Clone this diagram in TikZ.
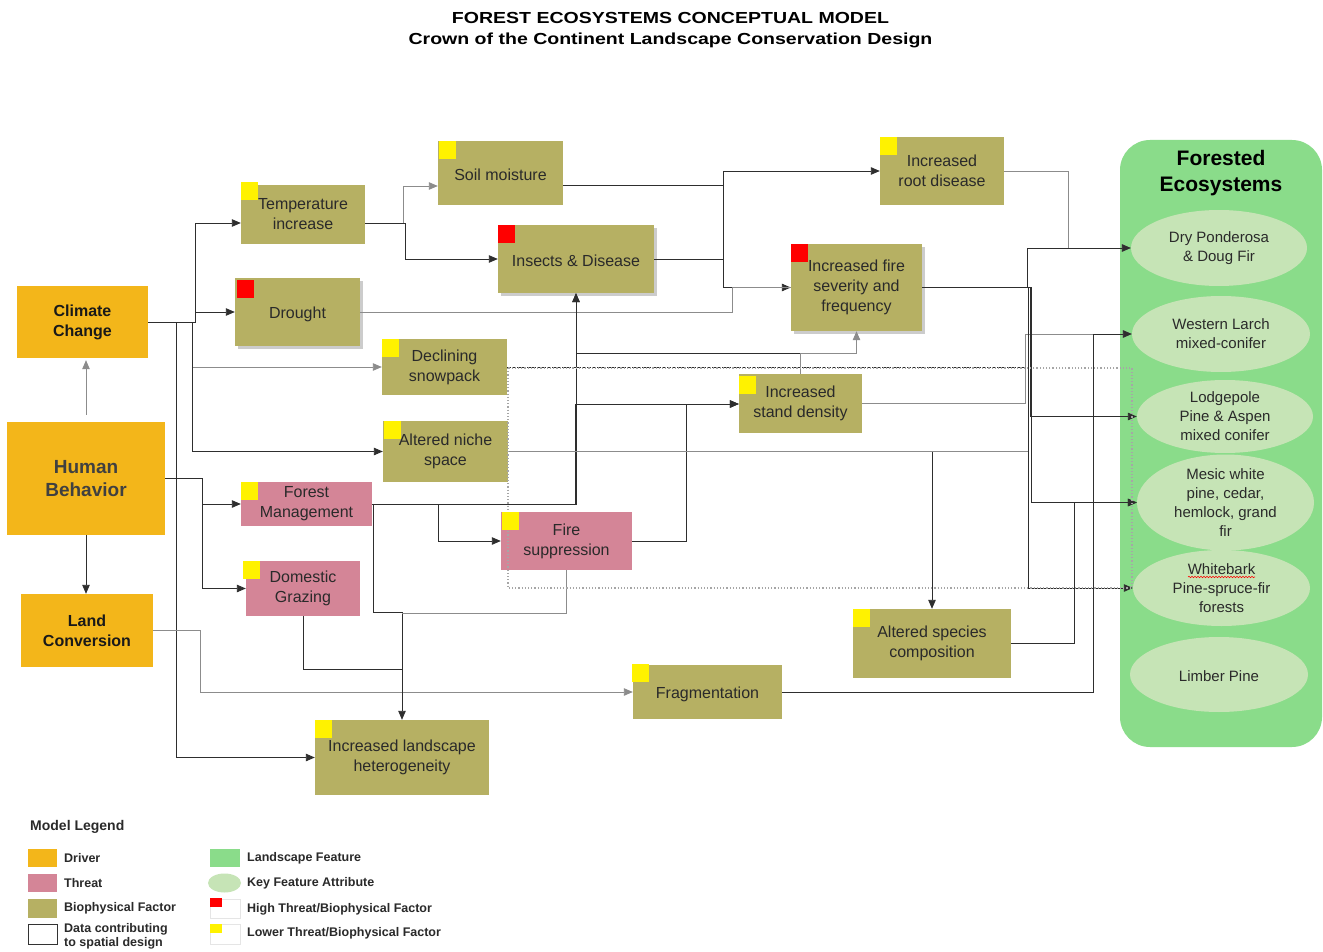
\documentclass[tikz,border=0pt]{standalone}
\usepackage{fontspec}
\setmainfont{Liberation Sans}
\usepackage{graphicx}
\usetikzlibrary{arrows.meta,shapes.geometric,shadows,decorations.pathmorphing}
\definecolor{cDrv}{HTML}{F3B61A}
\definecolor{cThr}{HTML}{D48597}
\definecolor{cBio}{HTML}{B6B063}
\definecolor{cLand}{HTML}{8ADC8A}
\definecolor{cAttr}{HTML}{C6E4B6}
\definecolor{cTxt}{HTML}{2A2A2A}
\definecolor{cLnD}{HTML}{2E2E2E}
\definecolor{cLnL}{HTML}{8C8C8C}
\newcommand{\sqmark}[4]{\fill[#1] ([xshift=#3pt,yshift=#4pt]#2.north west) rectangle ++(17,18);}
\tikzset{
  box/.style={inner sep=0pt, align=center, text=cTxt, font=\fontsize{16}{20}\selectfont,
    execute at begin node={\rule{0pt}{16pt}}},
  sz/.style 2 args={minimum width=#1pt, minimum height=#2pt},
  biobox/.style={box, fill=cBio},
  thrbox/.style={box, fill=cThr},
  drvbox/.style={box, fill=cDrv, font=\bfseries\fontsize{16}{20}\selectfont, text=black!90},
  shd/.style={drop shadow={shadow xshift=3pt, shadow yshift=-3pt, opacity=0.2, fill=black}},
  attrel/.style={ellipse, fill=cAttr, inner sep=0pt, align=center, text=cTxt, font=\fontsize{15}{19}\selectfont,
    execute at begin node={\rule{0pt}{13.5pt}}},
  ln/.style={draw=cLnD, line width=0.9pt},
  lg/.style={draw=cLnL, line width=0.9pt},
  arr/.style={-{Triangle[length=9pt,width=7.5pt]}},
  legtxt/.style={anchor=west, inner sep=0pt, font=\bfseries\fontsize{12.5}{15}\selectfont, text=cTxt, align=left},
}
\begin{document}
\begin{tikzpicture}[x=1pt,y=-1pt]
\useasboundingbox (0,0) rectangle (1323,952);
\fill[white] (0,0) rectangle (1323,952);

% title
\node[inner sep=0pt, font=\bfseries\fontsize{16}{20}\selectfont] (t1) at (670.5,17.5) {\scalebox{1.22}[1]{FOREST ECOSYSTEMS CONCEPTUAL MODEL}};
\node[inner sep=0pt, font=\bfseries\fontsize{16}{20}\selectfont] (t2) at (670.5,40.5) {\scalebox{1.22}[1]{Crown of the Continent Landscape Conservation Design}};

% landscape feature container
\node[fill=cLand, rounded corners=30pt, sz={202}{607}, inner sep=0pt] (fe) at (1221,443.5) {};
\node[inner sep=0pt, align=center, font=\bfseries\fontsize{21}{26}\selectfont] (fet) at (1221,173.5) {Forested\\Ecosystems};
\node[attrel, sz={176}{76}] (dry) at (1219,248) {Dry Ponderosa\\\& Doug Fir};
\node[attrel, sz={178}{76}] (wl) at (1221,334) {Western Larch\\mixed-conifer};
\node[attrel, sz={176}{73}] (lodge) at (1225,416.5) {Lodgepole\\Pine \& Aspen\\mixed conifer};
\node[attrel, sz={177}{73}] (mesic) at (1225.5,502.5) {Mesic white\\pine, cedar,\\hemlock, grand\\fir};
\node[attrel, sz={177}{76}] (wb) at (1221.5,588) {Whitebark\\Pine-spruce-fir\\forests};
\node[attrel, sz={178}{75}] (limber) at (1219,674.5) {Limber Pine};
\draw[red, line width=0.6pt, decorate, decoration={snake, amplitude=0.7pt, segment length=3pt}] (1188,577) -- (1255,577);

% drivers
\node[drvbox, sz={131}{72}] (cc) at (82.5,322) {Climate\\Change};
\node[drvbox, sz={158}{113}, text=black!75, font=\bfseries\fontsize{19}{23}\selectfont] (hb) at (86,478.5) {Human\\Behavior};
\node[drvbox, sz={132}{73}] (lc) at (87,630.5) {Land\\Conversion};

% biophysical factors
\node[biobox, sz={124}{59}] (temp) at (303,214.5) {Temperature\\increase};
\node[biobox, shd, sz={125}{68}] (drought) at (297.5,312) {Drought};
\node[biobox, sz={125}{64}] (soil) at (500.5,173) {Soil moisture};
\node[biobox, shd, sz={156}{68}] (ins) at (576,259) {Insects \& Disease};
\node[biobox, sz={124}{68}] (root) at (942,171) {Increased\\root disease};
\node[biobox, shd, sz={131}{87}] (fire) at (856.5,287.5) {Increased fire\\severity and\\frequency};
\node[biobox, sz={125}{56}] (snow) at (444.5,367) {Declining\\snowpack};
\node[biobox, sz={125}{61}] (niche) at (445.5,451.5) {Altered niche\\space};
\node[biobox, sz={123}{59}] (sd) at (800.5,403.5) {Increased\\stand density};
\node[biobox, sz={158}{69}] (species) at (932,643.5) {Altered species\\composition};
\node[biobox, sz={149}{54}] (frag) at (707.5,692) {Fragmentation};
\node[biobox, sz={174}{75}] (het) at (402,757.5) {Increased landscape\\heterogeneity};

% threats
\node[thrbox, sz={131}{44}] (fm) at (306.5,504) {Forest\\Management};
\node[thrbox, sz={114}{55}] (dg) at (303,588.5) {Domestic\\Grazing};
\node[thrbox, sz={131}{58}] (fs) at (566.5,541) {Fire\\suppression};

% connectors
\draw[ln,arr] (cc.east) -- (195,322) |- (temp.west |- 0,223);
\draw[ln,arr] (cc.east) -- (195,322) |- (drought.west);
\draw[lg,arr] (cc.east) -- (192,322) |- (snow.west);
\draw[ln,arr] (cc.east) -- (192,322) |- (niche.west);
\draw[ln,arr] (cc.east) -- (176,322) |- (het.west);
\draw[lg,arr,shorten <=7pt,shorten >=2pt] (hb.north) -- (hb.north |- cc.south);
\draw[ln,arr] (hb.south) -- (hb.south |- lc.north);
\draw[ln,arr] (hb.east) -- (202,478.5) |- (fm.west);
\draw[ln,arr] (hb.east) -- (202,478.5) |- (dg.west);
\draw[lg,arr] (lc.east) -- (200,630.5) |- (frag.west);
\draw[lg,arr] (temp.east |- 0,223) -- (403,223) |- (soil.west |- 0,186);
\draw[ln,arr] (temp.east |- 0,223) -- (405,223) |- (ins.west);
\draw[ln,arr] (soil.east |- 0,185) -- (723,185) |- (root.west);
\draw[ln,arr] (soil.east |- 0,185) -- (723,185) |- (fire.west);
\draw[ln] (ins.east) -- (723,259);
\draw[lg] (drought.east) -- (732,312) |- (fire.west);
\draw[ln,arr] (sd.north) |- (576,353) -- (ins.south);
\draw[lg,arr] (sd.north) |- (fire.south |- 0,353) -- (fire.south);
\draw[ln,arr] (fm.east) -- (576,504) -- (ins.south);
\draw[ln,arr] (fm.east) -- (575,504) |- (sd.west |- 0,404);
\draw[ln,arr] (fm.east) -- (438,504) |- (fs.west);
\draw[ln,arr] (fm.east) -- (373,504) -- (373,612) -| (het.north);
\draw[lg] (fs.south) |- (het.north |- 0,613);
\draw[ln] (dg.south) |- (het.north |- 0,669);
\draw[ln,arr] (fs.east) -- (686,541) |- (sd.west |- 0,404);
\draw[ln,arr] (niche.east) -| (species.north);
\draw[lg] (niche.east) -- (1029,451.5);
\draw[ln, dash pattern=on 4pt off 1pt] (snow.east |- 0,367.5) -- (1025,367.5);
\draw[lg,arr] (sd.east) -- (1025,403.5) |- (wl.west);
\draw[ln,arr] (frag.east) -- (1093,692) |- (wl.west);
\draw[lg,arr] (root.east) -- (1068,171) |- (dry.west);
\draw[ln,arr] (fire.east) -- (1027,287.5) |- (dry.west);
\draw[ln,arr] (fire.east) -- (1030,287.5) |- (lodge.west);
\draw[ln,arr] (fire.east) -- (1031,287.5) |- (mesic.west);
\draw[ln,arr] (fire.east) -- (1028,287.5) |- (wb.west);
\draw[ln,arr] (species.east) -- (1074,643.5) |- (mesic.west);

% dotted spatial-design frame
\draw[draw=black!35, line width=1.2pt, dotted] (508,368) rectangle (1132,588);

% level markers
\sqmark{yellow}{temp}{0}{3}
\sqmark{red}{drought}{2}{-2}
\sqmark{yellow}{soil}{1}{0}
\sqmark{red}{ins}{0}{0}
\sqmark{yellow}{root}{0}{0}
\sqmark{red}{fire}{0}{0}
\sqmark{yellow}{snow}{0}{0}
\sqmark{yellow}{niche}{1}{0}
\sqmark{yellow}{sd}{0}{-2}
\sqmark{yellow}{fm}{0}{0}
\sqmark{yellow}{dg}{-3}{0}
\sqmark{yellow}{fs}{1}{0}
\sqmark{yellow}{species}{0}{0}
\sqmark{yellow}{frag}{-1}{1}
\sqmark{yellow}{het}{0}{0}

% legend
\node[legtxt, font=\bfseries\fontsize{14}{17}\selectfont] (lgt) at (30,827) {Model Legend};
\fill[cDrv] (28,849) rectangle (57,867);
\node[legtxt] (l1) at (64,858) {Driver};
\fill[cThr] (28,874) rectangle (57,892);
\node[legtxt] (l2) at (64,883) {Threat};
\fill[cBio] (28,899) rectangle (57,918);
\node[legtxt] (l3) at (64,908) {Biophysical Factor};
\draw[black!80, line width=1pt] (28.5,924.5) rectangle (57,944);
\node[legtxt, font=\bfseries\fontsize{12.5}{14.5}\selectfont] (l4) at (64,936.5) {Data contributing\\to spatial design};
\fill[cLand] (210,849) rectangle (240,867);
\node[legtxt] (l5) at (247,858) {Landscape Feature};
\fill[cAttr] (224.5,883) ellipse [x radius=16.5, y radius=9.5];
\node[legtxt] (l6) at (247,883) {Key Feature Attribute};
\draw[black!10, line width=0.8pt] (210,899) rectangle (240,918);
\fill[red] (210,898) rectangle (222,907);
\node[legtxt] (l7) at (247,909) {High Threat/Biophysical Factor};
\draw[black!10, line width=0.8pt] (210,924) rectangle (240,944);
\fill[yellow] (210,924) rectangle (222,933);
\node[legtxt] (l8) at (247,933) {Lower Threat/Biophysical Factor};
\end{tikzpicture}
\end{document}
